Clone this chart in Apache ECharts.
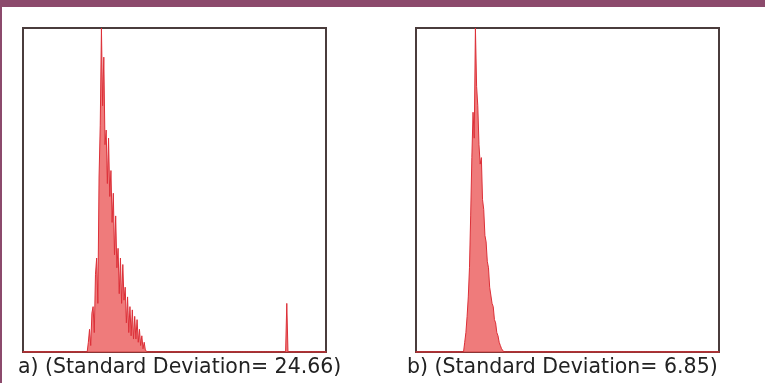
<!DOCTYPE html>
<html>
<head>
<meta charset="utf-8">
<script src="https://cdn.jsdelivr.net/npm/echarts@6/dist/echarts.min.js"></script>
<style>
  html, body { margin: 0; padding: 0; background: #fff; }
  #chart { width: 765px; height: 383px; }
</style>
</head>
<body>
<div id="chart"></div>
<script>
// histogram a: grey levels 0..255, counts scaled to 0..1000
var startA = 54;
var valuesA = [0, 30, 70, 20, 120, 140, 60, 240, 290, 150, 540, 700, 1000, 760, 910, 640, 685, 520, 660, 480,
  560, 400, 490, 300, 420, 260, 320, 180, 290, 150, 270, 160, 200, 90, 170, 60, 140, 50, 130, 40,
  110, 40, 100, 30, 70, 20, 50, 10, 30, 5, 0];
var spikeStartA = 221;
var spikeA = [0, 150, 0];

// histogram b
var startB = 40;
var valuesB = [0, 30, 60, 110, 170, 260, 420, 600, 740, 660, 1000, 820, 760, 640, 580, 600, 470, 440, 360, 340,
  280, 260, 200, 200, 150, 140, 100, 90, 60, 50, 30, 20, 10, 5, 0];

var captions = ['a) (Standard Deviation= 24.66)', 'b) (Standard Deviation= 6.85)'];

function buildHist(parts) {
  var h = [];
  for (var i = 0; i <= 255; i++) h.push(0);
  parts.forEach(function (p) {
    p[1].forEach(function (v, k) { h[p[0] + k] = v; });
  });
  return h.map(function (v, i) { return [i, v]; });
}

var histA = buildHist([[startA, valuesA], [spikeStartA, spikeA]]);
var histB = buildHist([[startB, valuesB]]);

var chart = echarts.init(document.getElementById('chart'));

function xAx(idx) {
  return {
    type: 'value', gridIndex: idx, min: 0, max: 255,
    axisLine: { show: true, onZero: false, lineStyle: { color: '#8a3535', width: 2 } },
    axisTick: { show: false },
    axisLabel: { show: false }, splitLine: { show: false }
  };
}
function yAx(idx) {
  return {
    type: 'value', gridIndex: idx, min: 0, max: 1000,
    axisLine: { show: false }, axisTick: { show: false },
    axisLabel: { show: false }, splitLine: { show: false }
  };
}
function histSeries(idx, data) {
  return {
    type: 'line', xAxisIndex: idx, yAxisIndex: idx,
    data: data, symbol: 'none', silent: true,
    lineStyle: { color: '#dc3038', width: 1 },
    areaStyle: { color: '#ec6464', opacity: 0.85 }
  };
}

chart.setOption({
  animation: false,
  grid: [
    { left: 23, top: 28, width: 303, height: 324, show: true, borderColor: '#4a3c3c', borderWidth: 2, backgroundColor: '#fff' },
    { left: 416, top: 28, width: 303, height: 324, show: true, borderColor: '#4a3c3c', borderWidth: 2, backgroundColor: '#fff' }
  ],
  xAxis: [xAx(0), xAx(1)],
  yAxis: [yAx(0), yAx(1)],
  series: [histSeries(0, histA), histSeries(1, histB)],
  graphic: [
    { type: 'rect', left: 0, top: 0, shape: { width: 765, height: 7 }, style: { fill: '#8c4a6c' } },
    { type: 'rect', left: 0, top: 7, shape: { width: 2, height: 376 }, style: { fill: '#8c4a6c' } },
    { type: 'text', left: 18, top: 357, style: { text: captions[0], font: '20.5px "DejaVu Sans"', fill: '#222' } },
    { type: 'text', left: 407, top: 357, style: { text: captions[1], font: '20.5px "DejaVu Sans"', fill: '#222' } }
  ]
});
</script>
</body>
</html>
